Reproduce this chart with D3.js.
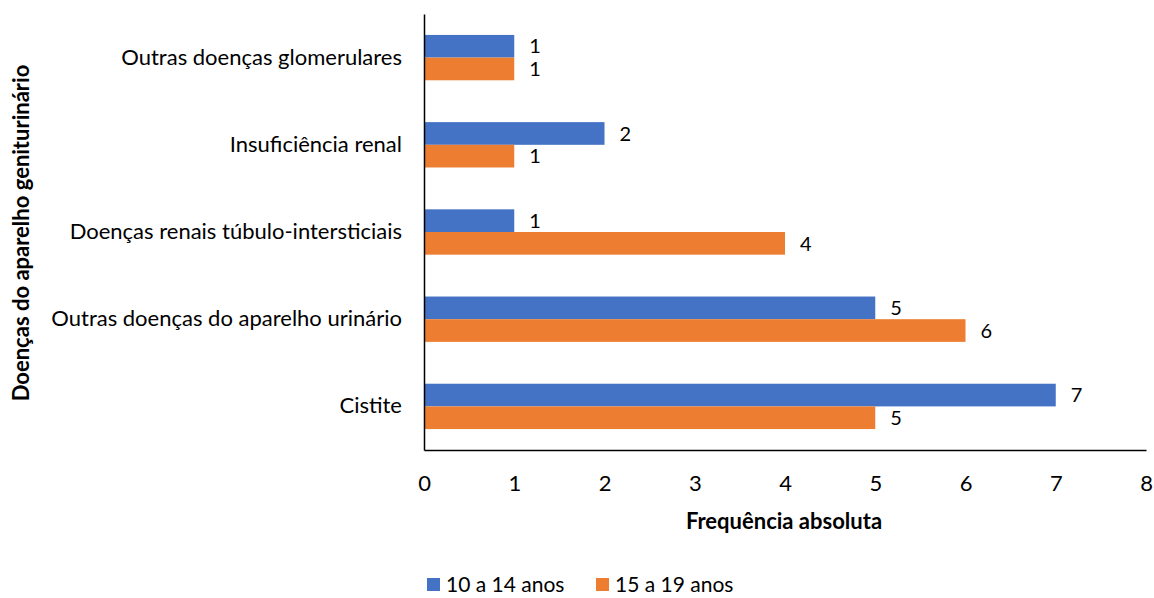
<!DOCTYPE html>
<html><head><meta charset="utf-8">
<script src="https://cdn.jsdelivr.net/npm/d3@7"></script>
<style>body{margin:0;background:#fff}svg{display:block}text{font-family:Lato,"Open Sans",sans-serif;fill:#000}</style>
</head><body><svg id="c" width="1154" height="598"></svg>
<script>
const categories = ["Outras doenças glomerulares","Insuficiência renal","Doenças renais túbulo-intersticiais","Outras doenças do aparelho urinário","Cistite"];
const seriesNames = ["10 a 14 anos","15 a 19 anos"];
const values10a14 = [1,2,1,5,7];
const values15a19 = [1,1,4,6,5];
const xTicks = [0,1,2,3,4,5,6,7,8];
const colors = ["#4472C4","#ED7D31"];

(function(){
const FS = 22;
const svg = d3.select("#c");
const pL = 424, pR = 1146, pT = 14, pB = 450;
const x = d3.scaleLinear().domain([0,8]).range([pL,pR]);
const y = d3.scaleBand().domain(categories).range([pT,pB]).paddingInner(0.48).paddingOuter(0.24);
const sub = d3.scaleBand().domain(seriesNames).range([0,y.bandwidth()]);
const series = [values10a14, values15a19];

const g = svg.append("g");
series.forEach((vals,si)=>{
  g.selectAll(null).data(categories).enter().append("rect")
    .attr("x", x(0)).attr("y", c=>y(c)+sub(seriesNames[si]))
    .attr("width", (c,i)=>x(vals[i])-x(0)).attr("height", sub.bandwidth())
    .attr("fill", colors[si]);
  g.selectAll(null).data(categories).enter().append("text")
    .attr("x",(c,i)=>x(vals[i])+15).attr("y", c=>y(c)+sub(seriesNames[si])+sub.bandwidth()/2)
    .attr("dy","0.36em").attr("font-size",FS-2).text((c,i)=>vals[i]);
});

const xa = svg.append("g").attr("transform",`translate(0,${pB})`)
  .call(d3.axisBottom(x).tickValues(xTicks).tickSize(0).tickPadding(25).tickFormat(d3.format("d")));
xa.select(".domain").attr("stroke","#000").attr("stroke-width",1.5);
xa.selectAll("text").attr("font-size",FS).attr("font-family","Lato,sans-serif");
const ya = svg.append("g").attr("transform",`translate(${pL},0)`)
  .call(d3.axisLeft(y).tickSize(0).tickPadding(22));
ya.select(".domain").attr("stroke","#000").attr("stroke-width",1.5);
ya.selectAll("text").attr("font-size",FS).attr("font-family","Lato,sans-serif");

svg.append("text").attr("x",784).attr("y",529).attr("text-anchor","middle")
  .attr("font-size",FS).attr("font-weight","bold").text("Frequência absoluta");
svg.append("text").attr("transform","translate(29,233) rotate(-90)").attr("text-anchor","middle")
  .attr("font-size",FS).attr("font-weight","bold").text("Doenças do aparelho geniturinário");

const lg = svg.append("g");
const lx = [427,596];
seriesNames.forEach((n,i)=>{
  lg.append("rect").attr("x",lx[i]).attr("y",578).attr("width",13).attr("height",13).attr("fill",colors[i]);
  lg.append("text").attr("x",lx[i]+19).attr("y",585).attr("dy","0.35em").attr("font-size",FS-1).text(n);
});
})();
</script></body></html>
